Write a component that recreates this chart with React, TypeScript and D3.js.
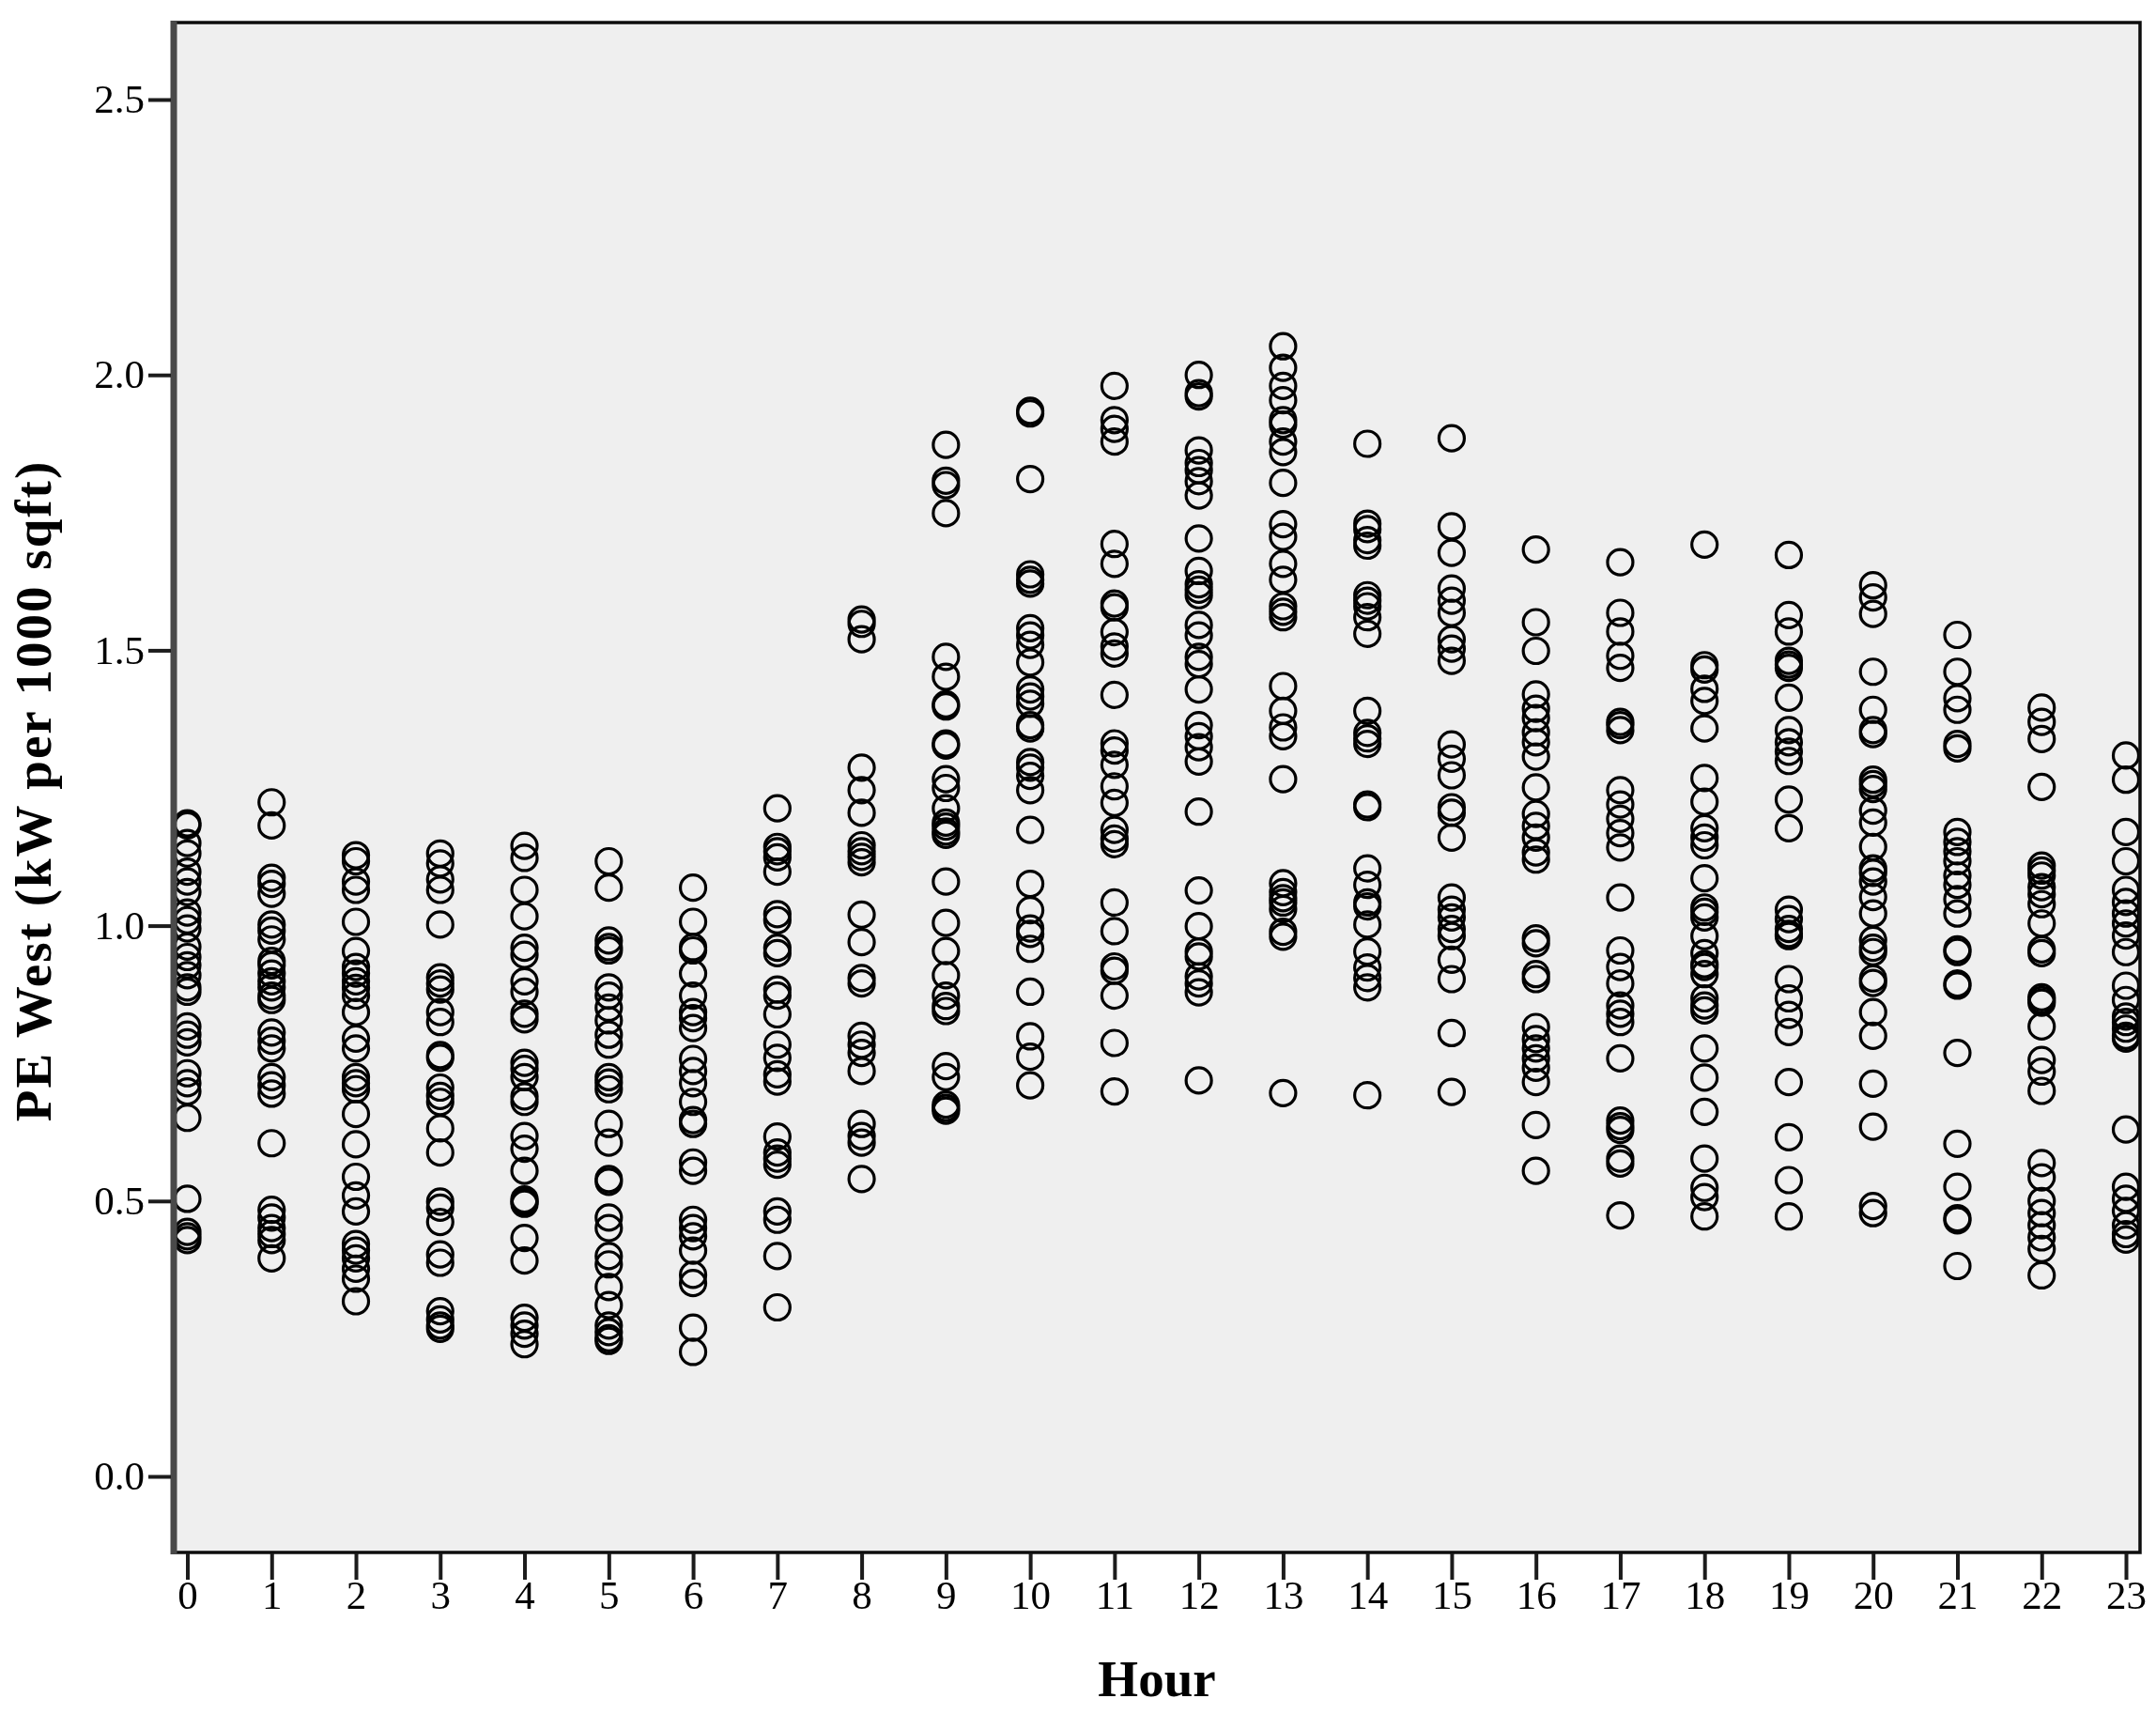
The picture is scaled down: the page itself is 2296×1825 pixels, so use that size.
import { useEffect, useRef } from 'react';
import * as d3 from 'd3';

const width = 2296;
const height = 1825;

const hours = d3.range(0, 24);
const yTicks = [0, 0.5, 1, 1.5, 2, 2.5];

// PE West readings per hour
const hour0 = [1.186, 1.182, 1.15, 1.131, 1.098, 1.08, 1.061, 1.024, 1.01, 0.995, 0.962, 0.943, 0.928, 0.91, 0.888, 0.88, 0.817, 0.802, 0.788, 0.732, 0.714, 0.699, 0.651, 0.504, 0.444, 0.436, 0.429];
const hour1 = [1.224, 1.182, 1.087, 1.076, 1.058, 1.002, 0.991, 0.975, 0.936, 0.928, 0.913, 0.899, 0.888, 0.873, 0.865, 0.806, 0.791, 0.777, 0.725, 0.71, 0.695, 0.605, 0.484, 0.47, 0.451, 0.44, 0.429, 0.396];
const hour2 = [1.128, 1.117, 1.08, 1.065, 1.007, 0.954, 0.925, 0.913, 0.899, 0.887, 0.873, 0.843, 0.795, 0.777, 0.725, 0.714, 0.703, 0.658, 0.603, 0.544, 0.51, 0.481, 0.422, 0.41, 0.396, 0.377, 0.359, 0.318];
const hour3 = [1.131, 1.113, 1.084, 1.065, 1.002, 0.906, 0.895, 0.884, 0.843, 0.825, 0.765, 0.76, 0.706, 0.691, 0.68, 0.632, 0.588, 0.499, 0.488, 0.462, 0.403, 0.388, 0.3, 0.285, 0.274, 0.268];
const hour4 = [1.145, 1.123, 1.065, 1.017, 0.96, 0.947, 0.899, 0.88, 0.84, 0.83, 0.751, 0.74, 0.725, 0.69, 0.68, 0.618, 0.595, 0.555, 0.503, 0.499, 0.495, 0.433, 0.392, 0.288, 0.274, 0.259, 0.24];
const hour5 = [1.117, 1.069, 0.973, 0.961, 0.955, 0.888, 0.873, 0.851, 0.828, 0.802, 0.784, 0.725, 0.715, 0.703, 0.64, 0.606, 0.54, 0.535, 0.47, 0.451, 0.4, 0.385, 0.344, 0.311, 0.274, 0.262, 0.251, 0.246];
const hour6 = [1.069, 1.007, 0.961, 0.955, 0.913, 0.873, 0.843, 0.832, 0.814, 0.758, 0.736, 0.714, 0.68, 0.647, 0.64, 0.57, 0.555, 0.466, 0.451, 0.436, 0.41, 0.366, 0.351, 0.27, 0.226];
const hour7 = [1.213, 1.143, 1.135, 1.124, 1.098, 1.021, 1.01, 0.96, 0.95, 0.884, 0.873, 0.839, 0.784, 0.76, 0.73, 0.717, 0.617, 0.588, 0.577, 0.566, 0.481, 0.466, 0.4, 0.307];
const hour8 = [1.556, 1.548, 1.52, 1.287, 1.246, 1.205, 1.146, 1.135, 1.125, 1.115, 1.02, 0.97, 0.905, 0.895, 0.8, 0.784, 0.769, 0.736, 0.64, 0.618, 0.606, 0.54];
const hour9 = [1.873, 1.808, 1.8, 1.749, 1.488, 1.452, 1.402, 1.398, 1.331, 1.327, 1.266, 1.25, 1.213, 1.187, 1.18, 1.171, 1.165, 1.08, 1.005, 0.954, 0.91, 0.873, 0.854, 0.845, 0.745, 0.725, 0.675, 0.669, 0.664];
const hour10 = [1.935, 1.93, 1.811, 1.638, 1.628, 1.621, 1.54, 1.527, 1.51, 1.478, 1.429, 1.416, 1.403, 1.364, 1.358, 1.297, 1.287, 1.272, 1.246, 1.174, 1.076, 1.028, 0.995, 0.985, 0.958, 0.88, 0.799, 0.762, 0.71];
const hour11 = [1.98, 1.918, 1.902, 1.879, 1.693, 1.657, 1.585, 1.578, 1.533, 1.507, 1.494, 1.419, 1.331, 1.318, 1.292, 1.253, 1.223, 1.174, 1.158, 1.148, 1.042, 0.99, 0.926, 0.918, 0.873, 0.787, 0.699];
const hour12 = [2.0, 1.967, 1.961, 1.863, 1.84, 1.827, 1.807, 1.781, 1.703, 1.644, 1.62, 1.61, 1.6, 1.546, 1.527, 1.488, 1.475, 1.429, 1.364, 1.344, 1.324, 1.298, 1.207, 1.064, 0.999, 0.953, 0.944, 0.908, 0.895, 0.879, 0.719];
const hour13 = [2.052, 2.013, 1.98, 1.954, 1.918, 1.91, 1.879, 1.86, 1.804, 1.729, 1.706, 1.657, 1.628, 1.58, 1.57, 1.56, 1.435, 1.39, 1.36, 1.344, 1.266, 1.077, 1.061, 1.05, 1.042, 1.03, 0.989, 0.98, 0.696];
const hour14 = [1.875, 1.73, 1.72, 1.7, 1.69, 1.6, 1.59, 1.58, 1.56, 1.53, 1.39, 1.35, 1.34, 1.33, 1.22, 1.215, 1.104, 1.074, 1.042, 1.035, 1.002, 0.953, 0.924, 0.905, 0.888, 0.692];
const hour15 = [1.885, 1.725, 1.677, 1.612, 1.59, 1.568, 1.52, 1.503, 1.481, 1.329, 1.303, 1.273, 1.215, 1.205, 1.16, 1.051, 1.029, 1.015, 0.994, 0.981, 0.938, 0.903, 0.805, 0.698];
const hour16 = [1.683, 1.551, 1.499, 1.42, 1.394, 1.377, 1.351, 1.333, 1.307, 1.251, 1.203, 1.181, 1.16, 1.133, 1.12, 0.977, 0.968, 0.912, 0.903, 0.816, 0.794, 0.777, 0.759, 0.742, 0.716, 0.638, 0.555];
const hour17 = [1.66, 1.568, 1.534, 1.49, 1.468, 1.37, 1.364, 1.355, 1.246, 1.22, 1.194, 1.168, 1.142, 1.051, 0.955, 0.925, 0.895, 0.855, 0.84, 0.825, 0.759, 0.646, 0.636, 0.629, 0.577, 0.568, 0.474];
const hour18 = [1.692, 1.473, 1.465, 1.43, 1.408, 1.358, 1.268, 1.225, 1.177, 1.16, 1.146, 1.086, 1.033, 1.025, 1.015, 0.981, 0.95, 0.93, 0.925, 0.912, 0.868, 0.855, 0.846, 0.777, 0.724, 0.662, 0.577, 0.524, 0.507, 0.472];
const hour19 = [1.673, 1.564, 1.534, 1.481, 1.474, 1.468, 1.414, 1.355, 1.333, 1.316, 1.299, 1.229, 1.177, 1.029, 1.012, 0.994, 0.985, 0.981, 0.903, 0.868, 0.838, 0.807, 0.716, 0.616, 0.538, 0.472];
const hour20 = [1.618, 1.596, 1.566, 1.461, 1.392, 1.355, 1.348, 1.265, 1.257, 1.248, 1.209, 1.187, 1.143, 1.104, 1.096, 1.08, 1.052, 1.022, 0.974, 0.96, 0.952, 0.904, 0.896, 0.843, 0.8, 0.713, 0.635, 0.491, 0.478];
const hour21 = [1.528, 1.461, 1.413, 1.392, 1.33, 1.322, 1.17, 1.152, 1.135, 1.117, 1.091, 1.074, 1.048, 1.022, 0.957, 0.952, 0.895, 0.891, 0.769, 0.604, 0.526, 0.469, 0.465, 0.382];
const hour22 = [1.396, 1.37, 1.339, 1.252, 1.109, 1.1, 1.091, 1.07, 1.057, 1.039, 1.004, 0.957, 0.95, 0.87, 0.865, 0.86, 0.817, 0.756, 0.735, 0.7, 0.569, 0.543, 0.5, 0.478, 0.456, 0.434, 0.413, 0.365];
const hour23 = [1.309, 1.265, 1.17, 1.117, 1.065, 1.043, 1.022, 1.004, 0.982, 0.952, 0.891, 0.865, 0.835, 0.825, 0.813, 0.8, 0.795, 0.63, 0.526, 0.504, 0.482, 0.456, 0.44, 0.43];

const series = [hour0, hour1, hour2, hour3, hour4, hour5, hour6, hour7, hour8, hour9, hour10, hour11,
  hour12, hour13, hour14, hour15, hour16, hour17, hour18, hour19, hour20, hour21, hour22, hour23];

const App = () => {
  const svgRef = useRef<SVGSVGElement>(null);

  useEffect(() => {
    const svg = d3.select(svgRef.current);
    svg.selectAll('*').remove();

    const frame = { left: 185, right: 2279, top: 24, bottom: 1653 };
    const x = d3.scaleLinear().domain([0, 23]).range([199.5, 2264]);
    const y = d3.scaleLinear().domain([0, 2.5]).range([1572, 106]);

    // the original is an upscaled raster, so everything is slightly soft
    svg.append('defs')
      .append('filter')
      .attr('id', 'soft')
      .append('feGaussianBlur')
      .attr('stdDeviation', 0.6);

    const root = svg.append('g').attr('filter', 'url(#soft)');

    root.append('rect')
      .attr('x', frame.left)
      .attr('y', frame.top)
      .attr('width', frame.right - frame.left)
      .attr('height', frame.bottom - frame.top)
      .attr('fill', '#efefef');

    const points = series.flatMap((values, h) => values.map(v => ({ h, v })));
    root.append('g')
      .selectAll('circle')
      .data(points)
      .join('circle')
      .attr('cx', d => x(d.h))
      .attr('cy', d => y(d.v))
      .attr('r', 13.5)
      .attr('fill', 'none')
      .attr('stroke', '#000')
      .attr('stroke-width', 3.2);

    // plot frame, the left edge is heavier in the original
    const border = root.append('g').attr('fill', 'none');
    border.append('path')
      .attr('d', `M${frame.left},${frame.top}H${frame.right}V${frame.bottom}H${frame.left}`)
      .attr('stroke', '#0a0a0a')
      .attr('stroke-width', 3.5);
    border.append('line')
      .attr('x1', frame.left)
      .attr('x2', frame.left)
      .attr('y1', frame.top - 2)
      .attr('y2', frame.bottom + 2)
      .attr('stroke', '#4a4a4a')
      .attr('stroke-width', 7);

    const xAxis = root.append('g')
      .attr('transform', `translate(0,${frame.bottom + 1})`)
      .call(d3.axisBottom(x).tickValues(hours).tickFormat(d3.format('d')).tickSize(28).tickPadding(0));
    const yAxis = root.append('g')
      .attr('transform', `translate(${frame.left - 3},0)`)
      .call(d3.axisLeft(y).tickValues(yTicks).tickFormat(d3.format('.1f')).tickSize(24).tickPadding(4));

    [xAxis, yAxis].forEach(axis => {
      axis.select('.domain').remove();
      axis.selectAll('.tick line').attr('stroke', '#1a1a1a').attr('stroke-width', 4);
      axis.selectAll('.tick text')
        .attr('fill', '#000')
        .style('font-family', '"Liberation Serif", serif')
        .style('font-size', '43px');
    });

    root.append('text')
      .attr('x', 1232)
      .attr('y', 1806)
      .attr('text-anchor', 'middle')
      .style('font-family', '"Liberation Serif", serif')
      .style('font-weight', 'bold')
      .style('font-size', '55px')
      .text('Hour');

    root.append('text')
      .attr('transform', 'translate(54,842) rotate(-90)')
      .attr('text-anchor', 'middle')
      .style('font-family', '"Liberation Serif", serif')
      .style('font-weight', 'bold')
      .style('font-size', '55px')
      .style('letter-spacing', '2px')
      .text('PE West (kW per 1000 sqft)');
  }, []);

  return (
    <svg
      ref={svgRef}
      width={width}
      height={height}
      style={{ position: 'absolute', left: 0, top: 0, background: '#fff' }}
    />
  );
};

export default App;
